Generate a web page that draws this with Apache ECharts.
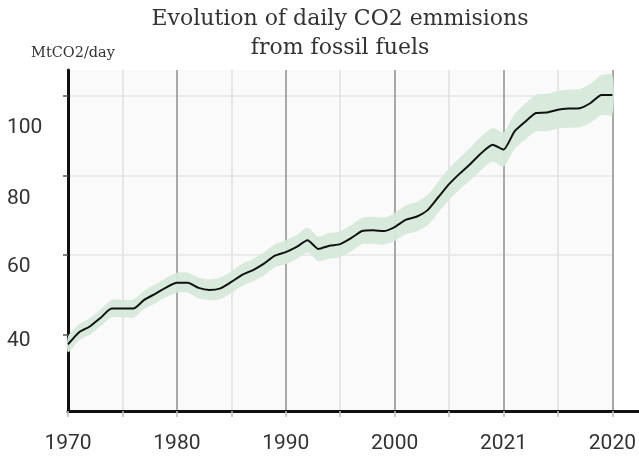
<!DOCTYPE html>
<html>
<head>
<meta charset="utf-8">
<script src="https://cdn.jsdelivr.net/npm/echarts@6/dist/echarts.min.js"></script>
<style>
  html, body { margin: 0; padding: 0; background: #ffffff; }
  #chart { width: 639px; height: 456px; }
</style>
</head>
<body>
<div id="chart"></div>
<script>
// Daily CO2 emissions from fossil fuels, MtCO2/day
const years = [
  1970, 1971, 1972, 1973, 1974, 1975, 1976, 1977, 1978, 1979,
  1980, 1981, 1982, 1983, 1984, 1985, 1986, 1987, 1988, 1989,
  1990, 1991, 1992, 1993, 1994, 1995, 1996, 1997, 1998, 1999,
  2000, 2001, 2002, 2003, 2004, 2005, 2006, 2007, 2008, 2009,
  2010, 2011, 2012, 2013, 2014, 2015, 2016, 2017, 2018, 2019,
  2020
];
const emissions = [
  37.5, 40.5, 42.0, 44.2, 46.5, 46.5, 46.5, 48.7, 50.2, 51.8,
  53.0, 53.0, 51.7, 51.2, 51.6, 53.2, 55.0, 56.2, 57.8, 59.8,
  60.7, 62.0, 63.7, 61.5, 62.3, 62.7, 64.2, 66.0, 66.2, 66.0,
  67.0, 68.8, 69.6, 71.2, 74.5, 77.8, 80.5, 83.0, 85.7, 87.7,
  86.5, 91.0, 93.5, 95.7, 95.8, 96.5, 96.8, 96.9, 98.2, 100.2,
  100.2
];
// Half-width of the uncertainty band around each yearly value
const uncertainty = [
  2.0, 2.0, 2.1, 2.1, 2.2, 2.2, 2.3, 2.3, 2.4, 2.4,
  2.5, 2.5, 2.6, 2.6, 2.7, 2.7, 2.8, 2.8, 2.9, 2.9,
  3.0, 3.0, 3.1, 3.1, 3.2, 3.2, 3.3, 3.3, 3.4, 3.4,
  3.5, 3.6, 3.7, 3.8, 3.9, 4.0, 4.0, 4.1, 4.2, 4.2,
  4.3, 4.4, 4.5, 4.6, 4.7, 4.7, 4.8, 4.8, 4.9, 5.0,
  5.0
];
const xTickValues = [1970, 1980, 1990, 2000, 2010, 2020];
const xTickLabels = ['1970', '1980', '1990', '2000', '2021', '2020'];
const yTickValues = [40, 60, 80, 100];
const yTickLabels = ['40', '60', '80', '100'];

const lineData = years.map((y, i) => [y, emissions[i]]);

// per-label vertical nudges for the value labels
const yLabelStyle = { 40: 'a', 60: 'b', 80: 'c', 100: 'd' };
const labelFont = { fontFamily: 'Roboto', fontSize: 21, color: '#333' };

// Uncertainty band: upper edge left to right, then lower edge back
function renderBand(params, api) {
  const upper = years.map((y, i) => api.coord([y, emissions[i] + uncertainty[i]]));
  const lower = years.map((y, i) => api.coord([y, emissions[i] - uncertainty[i]])).reverse();
  return {
    type: 'polygon',
    shape: { points: upper.concat(lower), smooth: 0.25 },
    style: { fill: '#d6e9d9', opacity: 0.95 },
    silent: true
  };
}

const chart = echarts.init(document.getElementById('chart'));
chart.setOption({
  animation: false,
  backgroundColor: '#ffffff',
  title: {
    text: 'Evolution of daily CO2 emmisions\nfrom fossil fuels',
    left: 335,
    top: 0,
    textAlign: 'center',
    textStyle: {
      fontFamily: 'DejaVu Serif',
      fontWeight: 'normal',
      fontSize: 22,
      lineHeight: 29,
      color: '#333'
    }
  },
  grid: [
    { left: 68, right: 21, top: 70, bottom: 45, show: true, backgroundColor: '#fafafa', borderWidth: 0 },
    { left: 68, right: 0, top: 70, bottom: 45, show: false }
  ],
  xAxis: [
    {
      type: 'value',
      gridIndex: 0,
      min: 1970,
      max: 2020,
      interval: 5,
      axisLine: { show: false },
      axisTick: { show: true, length: 6, lineStyle: { color: '#bdbdbd', width: 1.5 } },
      splitLine: { show: true, lineStyle: { color: ['#a9a9a9', '#e6e6e6'], width: 2 } },
      axisLabel: {
        margin: 22,
        ...labelFont,
        formatter: v => {
          const k = xTickValues.indexOf(v);
          return k >= 0 ? xTickLabels[k] : '';
        }
      }
    },
    {
      type: 'value',
      gridIndex: 1,
      min: 0,
      max: 1,
      axisLine: { show: true, lineStyle: { color: '#111', width: 3 } },
      axisTick: { show: false },
      axisLabel: { show: false },
      splitLine: { show: false }
    }
  ],
  yAxis: [
    {
      type: 'value',
      gridIndex: 0,
      min: 20.75,
      max: 106.5,
      splitNumber: 5,
      name: 'MtCO2/day',
      nameLocation: 'end',
      nameGap: 9,
      nameTextStyle: { fontFamily: 'DejaVu Serif', fontSize: 14.5, color: '#333', padding: [0, 0, 0, 10] },
      axisLine: { show: true, lineStyle: { color: '#111', width: 3 } },
      axisTick: { show: true, length: 5, customValues: yTickValues, lineStyle: { color: '#555', width: 1.5 } },
      splitLine: {
        show: true,
        lineStyle: { color: ['transparent', '#e6e6e6', '#e6e6e6', '#e6e6e6', '#e6e6e6', 'transparent'], width: 1.5 }
      },
      axisLabel: {
        customValues: yTickValues,
        align: 'left',
        margin: 61,
        ...labelFont,
        formatter: v => {
          const k = yTickValues.indexOf(v);
          if (k < 0) return '';
          return '{' + yLabelStyle[v] + '|' + yTickLabels[k] + '}';
        },
        rich: {
          a: { ...labelFont, padding: [12, 0, 0, 0] },
          b: { ...labelFont, padding: [24, 0, 0, 0] },
          c: { ...labelFont, padding: [46, 0, 0, 0] },
          d: { ...labelFont, padding: [64, 0, 0, 0] }
        }
      }
    },
    { type: 'value', gridIndex: 1, min: 0, max: 1, show: false }
  ],
  series: [
    {
      name: 'band',
      type: 'custom',
      xAxisIndex: 0,
      yAxisIndex: 0,
      coordinateSystem: 'cartesian2d',
      data: [[years[0], emissions[0]]],
      renderItem: renderBand,
      silent: true,
      z: 2
    },
    {
      name: 'emissions',
      type: 'line',
      xAxisIndex: 0,
      yAxisIndex: 0,
      data: lineData,
      symbol: 'none',
      smooth: 0.2,
      lineStyle: { color: '#111', width: 2 },
      z: 5
    }
  ]
});
</script>
</body>
</html>
